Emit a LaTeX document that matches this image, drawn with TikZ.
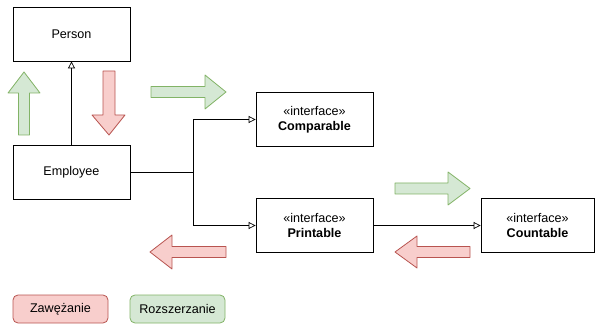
\documentclass[tikz,border=0pt]{standalone}
\usepackage{fontspec}
\setmainfont{Liberation Sans}
\usetikzlibrary{arrows.meta}
\definecolor{redfill}{HTML}{F8CECC}
\definecolor{redline}{HTML}{B85450}
\definecolor{greenfill}{HTML}{D5E8D4}
\definecolor{greenline}{HTML}{82B366}
\begin{document}
\begin{tikzpicture}[x=1pt,y=-1pt,
  font=\fontsize{12.6pt}{14.5pt}\selectfont,
  box/.style={draw, line width=0.8pt, minimum width=117pt, minimum height=54pt, align=center, inner sep=0pt},
  legend/.style={draw, line width=0.8pt, rounded corners=5pt, minimum width=95pt, minimum height=28pt, inner sep=0pt},
  implements/.style={draw, line width=0.7pt, -{Triangle[open, length=7pt, width=7pt]}},
  widenarrow/.style={draw=greenline, fill=greenfill, line width=0.8pt, line join=round},
  narrowarrow/.style={draw=redline, fill=redfill, line width=0.8pt, line join=round}]
\useasboundingbox (0,0) rectangle (595,326);

\node[box] (person) at (71.5,34) {Person};
\node[box] (employee) at (71.5,172.5) {Employee};
\node[box] (comparable) at (314.5,119.5) {«interface»\\\textbf{Comparable}};
\node[box] (printable) at (314.5,225.5) {«interface»\\\textbf{Printable}};
\node[box, minimum width=113pt] (countable) at (537.5,225.5) {«interface»\\\textbf{Countable}};

\node[legend, draw=redline, fill=redfill] (narrow) at (60.5,309) {Zawężanie};
\node[legend, draw=greenline, fill=greenfill] (widen) at (177.5,309) {Rozszerzanie};

\coordinate (junction) at (193,172.5);

\path[implements] (employee) -- (person);
\path[draw, line width=0.7pt] (employee.east) -- (junction);
\path[implements] (junction) |- (comparable.west);
\path[implements] (junction) |- (printable.west);
\path[implements] (printable) -- (countable);

% block arrows
\draw[widenarrow] (24,72) -- (40,93) -- (29.5,93) -- (29.5,135) -- (18.5,135) -- (18.5,93) -- (8,93) -- cycle;
\draw[narrowarrow] (109,135) -- (125,115) -- (115,115) -- (115,71) -- (103,71) -- (103,115) -- (92,115) -- cycle;
\draw[widenarrow] (226,92) -- (205,75) -- (205,86.5) -- (151,86.5) -- (151,97.5) -- (205,97.5) -- (205,109) -- cycle;
\draw[widenarrow] (470,188.5) -- (448,172) -- (448,183) -- (395,183) -- (395,194) -- (448,194) -- (448,205) -- cycle;
\draw[narrowarrow] (395,252) -- (417,236) -- (417,246.5) -- (470,246.5) -- (470,257.5) -- (417,257.5) -- (417,268) -- cycle;
\draw[narrowarrow] (150,252) -- (172,235) -- (172,246.5) -- (226,246.5) -- (226,257.5) -- (172,257.5) -- (172,269) -- cycle;
\end{tikzpicture}
\end{document}
